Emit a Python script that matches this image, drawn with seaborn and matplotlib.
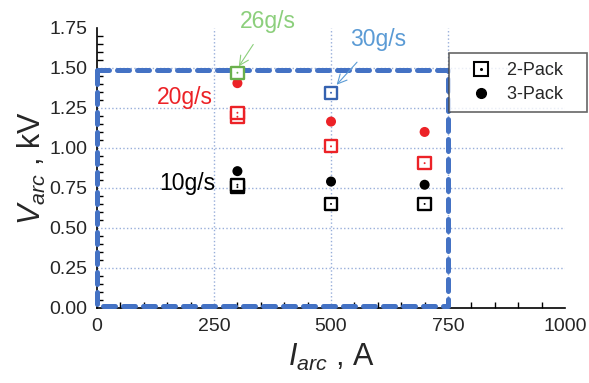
import matplotlib
matplotlib.use('Agg')
import pandas as pd
import matplotlib.pyplot as plt
import seaborn as sns
from matplotlib.lines import Line2D
from matplotlib.ticker import MultipleLocator

# 2-Pack measurements (squares)
sq_current = [300, 300, 300, 300, 300, 500, 500, 500, 700, 700]
sq_voltage = [0.755, 0.77, 1.195, 1.22, 1.47, 0.65, 1.01, 1.345, 0.65, 0.905]
sq_rate = ['10g/s', '10g/s', '20g/s', '20g/s', '26g/s', '10g/s', '20g/s', '30g/s', '10g/s', '20g/s']

# 3-Pack measurements (circles)
ci_current = [300, 300, 500, 500, 700, 700]
ci_voltage = [0.855, 1.405, 0.79, 1.165, 0.77, 1.10]
ci_rate = ['10g/s', '20g/s', '10g/s', '20g/s', '10g/s', '20g/s']

# dashed operating window
win_x = [0, 750, 750, 0, 0]
win_y = [1.485, 1.485, 0.01, 0.01, 1.485]

palette = {'10g/s': 'black', '20g/s': '#EC2227', '26g/s': '#6AB04C', '30g/s': '#3562B0'}

sq_df = pd.DataFrame({'I': sq_current, 'V': sq_voltage, 'rate': sq_rate})
ci_df = pd.DataFrame({'I': ci_current, 'V': ci_voltage, 'rate': ci_rate})

sns.set_style('white')
plt.rcParams['font.family'] = ['Liberation Sans', 'DejaVu Sans']
plt.rcParams['mathtext.fontset'] = 'custom'
plt.rcParams['mathtext.rm'] = 'Liberation Sans'
plt.rcParams['mathtext.it'] = 'Liberation Sans:italic'

fig = plt.figure(figsize=(5.89, 3.83), dpi=100)
ax = fig.add_axes([0.1647, 0.196, 0.7946, 0.731])

ax.set_xlim(0, 1000)
ax.set_ylim(0, 1.75)
ax.xaxis.set_major_locator(MultipleLocator(250))
ax.xaxis.set_minor_locator(MultipleLocator(50))
ax.yaxis.set_major_locator(MultipleLocator(0.25))
ax.yaxis.set_minor_locator(MultipleLocator(0.05))
ax.grid(which='major', ls=':', color='#98AEDA', lw=1.0)
ax.set_axisbelow(True)

# the dashed box
ax.plot(win_x, win_y, color='#4472C4', lw=3.6, ls=(0, (2.4, 1.6)),
        dash_capstyle='round', clip_on=False, zorder=3)

# circles
sns.scatterplot(data=ci_df, x='I', y='V', hue='rate', palette=palette, marker='o',
                s=52, linewidth=0, legend=False, ax=ax, zorder=4)

# squares (white face, coloured edge)
sns.scatterplot(data=sq_df, x='I', y='V', hue='rate', palette=palette, marker='s',
                s=78, linewidth=1.7, legend=False, ax=ax, zorder=5)
coll = ax.collections[-1]
coll.set_edgecolors(coll.get_facecolors())
coll.set_facecolors('white')
sns.scatterplot(data=sq_df, x='I', y='V', hue='rate', palette=palette, marker='o',
                s=2, linewidth=0, legend=False, ax=ax, zorder=6)

# labels for the feed rates
ax.text(248, 1.315, '20g/s', color='#EC2227', fontsize=16.5, ha='right', va='center')
ax.text(252, 0.775, '10g/s', color='black', fontsize=16.5, ha='right', va='center')
ax.annotate('26g/s', xy=(303, 1.51), xytext=(366, 1.79), color='#8CCF7C', fontsize=16.5,
            ha='center', va='center', annotation_clip=False,
            arrowprops=dict(arrowstyle='->', color='#8CCF7C', lw=0.8, shrinkA=7, shrinkB=0))
ax.annotate('30g/s', xy=(512, 1.395), xytext=(600, 1.68), color='#5B9BD5', fontsize=16.5,
            ha='center', va='center', annotation_clip=False,
            arrowprops=dict(arrowstyle='->', color='#5B9BD5', lw=0.8, shrinkA=8, shrinkB=0))

ax.set_xlabel(r'$I_{arc}$ , A', fontsize=22, labelpad=5)
ax.set_ylabel(r'$V_{arc}$ , kV', fontsize=22, labelpad=1)
ax.set_yticklabels([f'{v:.2f}' for v in ax.get_yticks()])

ax.tick_params(which='both', direction='in', labelsize=14, color='black')
ax.tick_params(which='major', length=7, width=1.1)
ax.tick_params(which='minor', length=4, width=1.0, left=True, bottom=True)
ax.tick_params(axis='x', pad=7)
ax.tick_params(axis='y', pad=7)
for s in ['top', 'right']:
    ax.spines[s].set_visible(False)
for s in ['left', 'bottom']:
    ax.spines[s].set_color('black')
    ax.spines[s].set_linewidth(1.2)

# no grid lines on the outer limits
for t in ax.xaxis.get_major_ticks():
    if t.get_loc() in (0, 1000):
        t.gridline.set_visible(False)
for t in ax.yaxis.get_major_ticks():
    if abs(t.get_loc()) < 1e-9 or abs(t.get_loc() - 1.75) < 1e-9:
        t.gridline.set_visible(False)

sq_handle = Line2D([], [], marker='s', ls='none', markersize=9.5, markerfacecolor='white',
                   markeredgecolor='black', markeredgewidth=1.5)
dot_handle = Line2D([], [], marker='o', ls='none', markersize=1.2, color='black')
ci_handle = Line2D([], [], marker='o', ls='none', markersize=7, color='black')
leg = ax.legend([(sq_handle, dot_handle), ci_handle], ['2-Pack   ', '3-Pack   '],
                loc='upper right', bbox_to_anchor=(0.997, 0.862), bbox_transform=fig.transFigure,
                fontsize=13, frameon=True, fancybox=False, edgecolor='#404040',
                handletextpad=0.2, borderpad=0.5, labelspacing=0.4, handlelength=2.5,
                borderaxespad=0)
leg.get_frame().set_linewidth(1.2)

fig.savefig('out.png', dpi=100)
